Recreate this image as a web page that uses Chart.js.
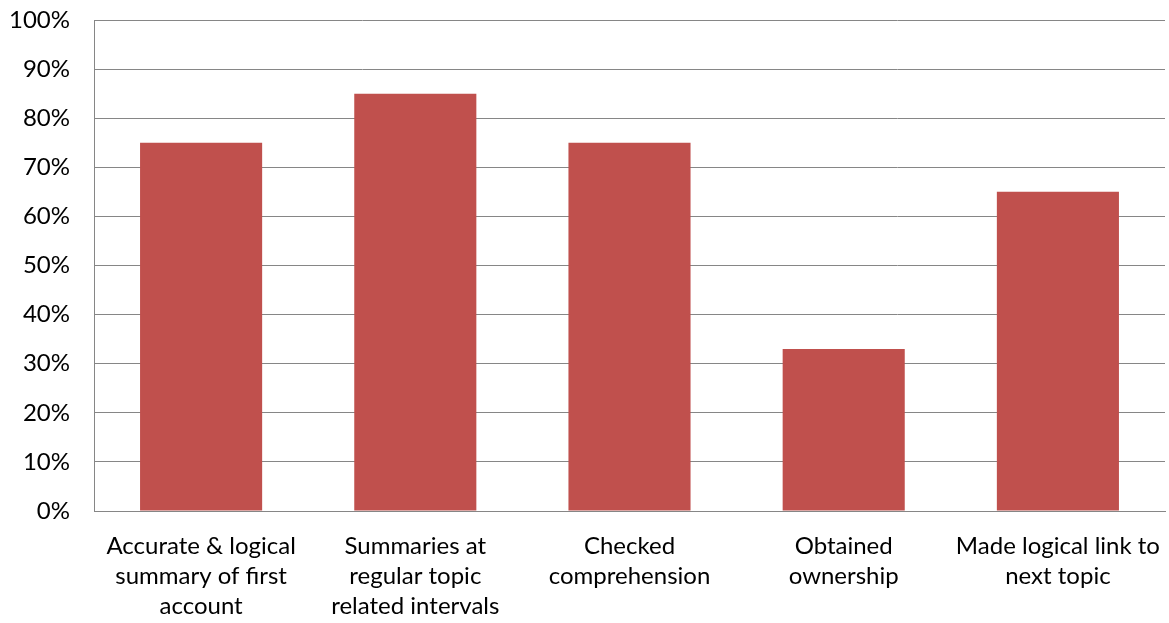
<!DOCTYPE html>
<html>
<head>
<meta charset="utf-8">
<script src="https://cdn.jsdelivr.net/npm/chart.js@4.4.0/dist/chart.umd.min.js"></script>
<style>
  html, body { margin: 0; padding: 0; background: #fff; }
  #wrap { width: 1169px; height: 623px; position: relative; }
</style>
</head>
<body>
<div id="wrap"><canvas id="barChart"></canvas></div>
<script>
// categories (split into lines as shown under each bar)
const categories = [
  ['Accurate & logical', 'summary of first', 'account'],
  ['Summaries at', 'regular topic', 'related intervals'],
  ['Checked', 'comprehension'],
  ['Obtained', 'ownership'],
  ['Made logical link to', 'next topic']
];
// share of observations, percent
const scores = [75, 85, 75, 33, 65];
const yTicks = [0, 10, 20, 30, 40, 50, 60, 70, 80, 90, 100];

const ctx = document.getElementById('barChart');

new Chart(ctx, {
  type: 'bar',
  data: {
    labels: categories,
    datasets: [{
      data: scores,
      backgroundColor: '#C0504D',
      borderWidth: 0,
      barPercentage: 1,
      categoryPercentage: 0.57
    }]
  },
  options: {
    responsive: true,
    maintainAspectRatio: false,
    animation: false,
    layout: { padding: { top: 20, right: 4, left: 0, bottom: 0 } },
    plugins: {
      legend: { display: false },
      tooltip: { enabled: false }
    },
    scales: {
      y: {
        min: 0,
        max: 100,
        afterBuildTicks: (axis) => {
          axis.ticks = yTicks.map(v => ({ value: v }));
        },
        afterFit: (axis) => {
          axis.width = 94;
          // labels may overhang the plot edges
          axis.paddingTop = 0;
          axis.paddingBottom = 0;
        },
        grid: { color: '#868686', lineWidth: 1, drawTicks: false },
        border: { color: '#868686', width: 1 },
        ticks: {
          color: '#000',
          padding: 24,
          font: { family: 'Lato', size: 24 },
          callback: (v) => v + '%'
        }
      },
      x: {
        afterFit: (axis) => {
          axis.height = 112;
          axis.paddingLeft = 0;
          axis.paddingRight = 0;
        },
        grid: { display: false, drawTicks: false },
        border: { color: '#868686', width: 1 },
        ticks: {
          color: '#000',
          padding: 20,
          maxRotation: 0,
          autoSkip: false,
          font: { family: 'Lato', size: 24, lineHeight: 1.25 }
        }
      }
    }
  }
});
</script>
</body>
</html>
